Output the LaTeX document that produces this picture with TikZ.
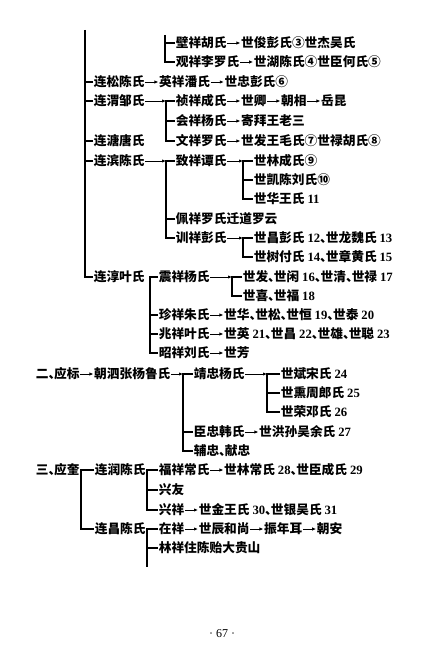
\documentclass[tikz,border=0pt]{standalone}
\usepackage{fontspec}
\newfontfamily\cjk{Noto Sans CJK SC}
\newfontfamily\lat{Liberation Serif}
\usetikzlibrary{positioning,arrows.meta}
\newcommand\nm[1]{{\lat\bfseries #1}}
\newcommand\dn{\makebox[0.45em][l]{、}}

\begin{document}
\begin{tikzpicture}[x=1pt,y=-1pt,node distance=13pt]
\tikzstyle{every node}+=[inner sep=0.6pt,anchor=west,text height=10.5pt,text depth=2pt,font=\cjk\bfseries\fontsize{12.7}{13}\selectfont]
\tikzstyle{arr}=[-{Latex[length=4pt,width=3.4pt]},line width=0.8pt]
\tikzstyle{bus}=[line width=1.1pt]
\useasboundingbox (0,0) rectangle (436,650);
\coordinate (topA) at (165,35);
\node (bi) at (175,43) {壁祥胡氏};
\node [right=of bi] (bishi) {世俊彭氏③世杰吴氏};
\node (guan) at (175,62) {观祥李罗氏};
\node [right=of guan] (guanshi) {世湖陈氏④世臣何氏⑤};
\draw [bus] (topA) |- (guan.west);
\draw [bus] (bi.west) -- (bi.west -| topA);
\draw [arr] (bi) -- (bishi);
\draw [arr] (guan) -- (guanshi);
\coordinate (topB) at (85,30);
\node (lsong) at (93,82) {连松陈氏};
\node [right=of lsong] (ying) {英祥潘氏};
\node [right=of ying] (szhong) {世忠彭氏⑥};
\node (lwei) at (93,101) {连渭邹氏};
\coordinate (busW) at (166,101);
\node (zhen) at (175,101) {祯祥成氏};
\node [right=of zhen] (sqing) {世卿};
\node [right=of sqing] (chao) {朝相};
\node [right=of chao] (yue) {岳昆};
\node (hui) at (175,121) {会祥杨氏};
\node [right=of hui] (ji) {寄拜王老三};
\node (ltang) at (93,141) {连溏唐氏};
\node (wen) at (175,141) {文祥罗氏};
\node [right=of wen] (sfa) {世发王毛氏⑦世禄胡氏⑧};
\node (lbin) at (93,161) {连滨陈氏};
\coordinate (busB) at (166,161);
\node (zhi) at (175,161) {致祥谭氏};
\coordinate (busZ) at (243,161);
\node (slin) at (253,161) {世林成氏⑨};
\node (skai) at (253,180) {世凯陈刘氏⑩};
\node (shua) at (253,199) {世华王氏 \nm{11}};
\node (pei) at (175,219) {佩祥罗氏迁道罗云};
\node (xun) at (175,238) {训祥彭氏};
\coordinate (busX) at (243,238);
\node (schang) at (253,238) {世昌彭氏 \nm{12}\dn 世龙魏氏 \nm{13}};
\node (sshu) at (253,257) {世树付氏 \nm{14}\dn 世章黄氏 \nm{15}};
\node (lchun) at (93,277) {连淳叶氏};
\coordinate (busC) at (150,277);
\node (zhenx) at (158,277) {震祥杨氏};
\coordinate (busZX) at (232,277);
\node (sfa2) at (242,277) {世发\dn 世闲 \nm{16}\dn 世清\dn 世禄 \nm{17}};
\node (sxi) at (242,296) {世喜\dn 世福 \nm{18}};
\node (zhenz) at (158,315) {珍祥朱氏};
\node [right=of zhenz] (shua2) {世华\dn 世松\dn 世恒 \nm{19}\dn 世泰 \nm{20}};
\node (zhao) at (158,334) {兆祥叶氏};
\node [right=of zhao] (sying) {世英 \nm{21}\dn 世昌 \nm{22}\dn 世雄\dn 世聪 \nm{23}};
\node (zhaol) at (158,353) {昭祥刘氏};
\node [right=of zhaol] (sfang) {世芳};
\draw [bus] (topB) |- (lchun.west);
\foreach \n in {lsong,lwei,ltang,lbin} \draw [bus] (\n.west) -- (\n.west -| topB);
\draw [arr] (lsong) -- (ying);
\draw [arr] (ying) -- (szhong);
\draw [arr] (lwei) -- (busW);
\draw [bus] (zhen.west) -- (busW) |- (wen.west);
\draw [bus] (hui.west) -- (hui.west -| busW);
\draw [arr] (zhen) -- (sqing);
\draw [arr] (sqing) -- (chao);
\draw [arr] (chao) -- (yue);
\draw [arr] (hui) -- (ji);
\draw [arr] (wen) -- (sfa);
\draw [arr] (lbin) -- (busB);
\draw [bus] (zhi.west) -- (busB) |- (xun.west);
\draw [bus] (pei.west) -- (pei.west -| busB);
\draw [arr] (zhi) -- (busZ);
\draw [bus] (slin.west) -- (busZ) |- (shua.west);
\draw [bus] (skai.west) -- (skai.west -| busZ);
\draw [arr] (xun) -- (busX);
\draw [bus] (schang.west) -- (busX) |- (sshu.west);
\draw [bus] (zhenx.west) -- (busC) |- (zhaol.west);
\foreach \n in {zhenz,zhao} \draw [bus] (\n.west) -- (\n.west -| busC);
\draw [arr] (zhenx) -- (busZX);
\draw [bus] (sfa2.west) -- (busZX) |- (sxi.west);
\draw [arr] (zhenz) -- (shua2);
\draw [arr] (zhao) -- (sying);
\draw [arr] (zhaol) -- (sfang);
\node (er) at (35,374) {二\dn 应标};
\node [right=of er] (chaos) {朝泗张杨鲁氏};
\coordinate (busJ) at (183,374);
\node (jing) at (193,374) {靖忠杨氏};
\coordinate (busS) at (267,374);
\node (sbin) at (280,374) {世斌宋氏 \nm{24}};
\node (sxun) at (280,393) {世熏周郎氏 \nm{25}};
\node (srong) at (280,412) {世荣邓氏 \nm{26}};
\node (chen) at (193,432) {臣忠韩氏};
\node [right=of chen] (shong) {世洪孙吴余氏 \nm{27}};
\node (fu) at (193,451) {辅忠\dn 献忠};
\draw [arr] (er) -- (chaos);
\draw [arr] (chaos) -- (busJ);
\draw [bus] (jing.west) -- (busJ) |- (fu.west);
\draw [bus] (chen.west) -- (chen.west -| busJ);
\draw [arr] (jing) -- (busS);
\draw [bus] (sbin.west) -- (busS) |- (srong.west);
\draw [bus] (sxun.west) -- (sxun.west -| busS);
\draw [arr] (chen) -- (shong);
\node (san) at (35,470) {三\dn 应奎};
\coordinate (busK) at (81,470);
\node (lrun) at (94,470) {连润陈氏};
\coordinate (busR) at (147,470);
\node (fux) at (158,470) {福祥常氏};
\node [right=of fux] (slinc) {世林常氏 \nm{28}\dn 世臣成氏 \nm{29}};
\node (xyou) at (158,490) {兴友};
\node (xxiang) at (158,510) {兴祥};
\node [right=of xxiang] (sjin) {世金王氏 \nm{30}\dn 世银吴氏 \nm{31}};
\node (lchang) at (94,529) {连昌陈氏};
\coordinate (busL) at (147,529);
\node (zai) at (158,529) {在祥};
\node [right=of zai] (schen) {世辰和尚};
\node [right=of schen] (zhenn) {振年耳};
\node [right=of zhenn] (chaoan) {朝安};
\node (lin) at (158,548) {林祥住陈贻大贵山};
\coordinate (endL) at (147,567);
\draw [bus] (lrun.west) -- (busK) |- (lchang.west);
\draw [bus] (fux.west) -- (busR) |- (xxiang.west);
\draw [bus] (xyou.west) -- (xyou.west -| busR);
\draw [arr] (fux) -- (slinc);
\draw [arr] (xxiang) -- (sjin);
\draw [bus] (zai.west) -- (busL) -- (endL);
\draw [bus] (lin.west) -- (lin.west -| busL);
\draw [arr] (zai) -- (schen);
\draw [arr] (schen) -- (zhenn);
\draw [arr] (zhenn) -- (chaoan);
\node [anchor=center,font=\lat\fontsize{12}{12}\selectfont] (page) at (222,633) {· 67 ·};
\end{tikzpicture}
\end{document}
